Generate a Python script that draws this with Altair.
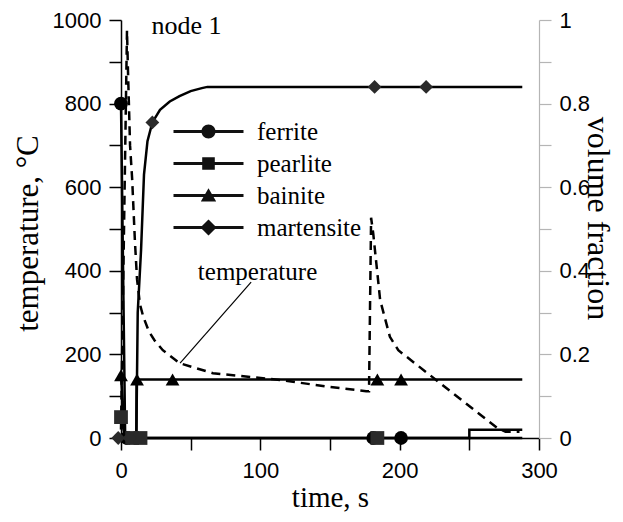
import altair as alt
import pandas as pd

# ---- temperature (left axis, degC) ----
temp_t = [0, 4.3, 5, 6.5, 8, 10, 11.5, 13.6, 16, 20, 24, 30, 42, 66, 114, 150, 176, 178, 179.5, 181, 184.5, 186, 193, 199, 270, 276, 286]
temp_T = [20, 975, 880, 700, 620, 470, 380, 320, 290, 255, 234, 210, 179, 155, 139, 122, 112, 112, 527, 490, 378, 330, 242, 210, 24, 15, 15]

# ---- phase volume fractions (right axis) ----
phases = ["ferrite", "pearlite", "bainite", "martensite"]
ferrite_t = [0, 3, 250, 250, 288]
ferrite_f = [0.8, 0, 0, 0.02, 0.02]
pearlite_t = [0, 3, 288]
pearlite_f = [0.05, 0, 0]
bainite_t = [0, 3, 11, 11.2, 288]
bainite_f = [0.15, 0, 0, 0.14, 0.14]
martensite_t = [0, 11, 12, 14.4, 16.5, 19, 22.5, 28, 35, 42, 50, 58, 62, 288]
martensite_f = [0, 0, 0.3, 0.45, 0.63, 0.71, 0.755, 0.785, 0.805, 0.818, 0.83, 0.837, 0.84, 0.84]

# marker positions
ferrite_mt = [0, 4, 181, 201]
ferrite_mf = [0.8, 0, 0, 0]
pearlite_mt = [0, 8, 14, 184]
pearlite_mf = [0.05, 0, 0, 0]
bainite_mt = [0, 11.5, 37, 184, 201]
bainite_mf = [0.15, 0.14, 0.14, 0.14, 0.14]
martensite_mt = [-2, 6, 22.5, 182, 219]
martensite_mf = [0, 0, 0.755, 0.84, 0.84]

# annotations
node_label = ["node 1"]
node_t = [47]
node_T = [985]
temp_label = ["temperature"]
temp_label_t = [98]
temp_label_T = [397]
leader_t = [93.4]
leader_T = [373]
leader_t2 = [42.4]
leader_T2 = [179]

line_rows = []
for name, ts, fs in [("ferrite", ferrite_t, ferrite_f), ("pearlite", pearlite_t, pearlite_f),
                     ("bainite", bainite_t, bainite_f), ("martensite", martensite_t, martensite_f)]:
    for i, (t, f) in enumerate(zip(ts, fs)):
        line_rows.append({"phase": name, "t": t, "f": f, "i": i})
lines_df = pd.DataFrame(line_rows)

mark_rows = []
for name, ts, fs in [("ferrite", ferrite_mt, ferrite_mf), ("pearlite", pearlite_mt, pearlite_mf),
                     ("bainite", bainite_mt, bainite_mf), ("martensite", martensite_mt, martensite_mf)]:
    for t, f in zip(ts, fs):
        mark_rows.append({"phase": name, "phase_leg": name, "t": t, "f": f})
marks_df = pd.DataFrame(mark_rows)

temp_df = pd.DataFrame({"t": temp_t, "T": temp_T, "i": list(range(len(temp_t)))})

LABEL_FONT = "Liberation Sans"
SERIF = "Liberation Serif"

xscale = alt.Scale(domain=[0, 300], nice=False, zero=False)
x_axis = alt.Axis(values=list(range(0, 301, 50)),
                  labelExpr="datum.value % 100 == 0 ? '' + datum.value : ''",
                  title="time, s", titleX=209, titleY=59, titleBaseline="middle",
                  titleAlign="center", titleFontSize=29)
tscale = alt.Scale(domain=[0, 1000], nice=False)
fscale = alt.Scale(domain=[0, 1], nice=False)

left_axis = alt.Axis(
    values=list(range(0, 1001, 100)),
    labelExpr="datum.value % 200 == 0 ? '' + datum.value : ''",
    title="temperature, \u00b0C", titleAngle=270, titleX=-93, titleY=213,
    titleBaseline="middle", titleAlign="center", orient="left", titleFontSize=31)

right_axis = alt.Axis(
    orient="right", values=[round(v * 0.1, 1) for v in range(11)],
    labelExpr="round(datum.value*10) % 2 == 0 ? '' + round(datum.value*10)/10 : ''",
    domainColor="#b5b5b5", tickColor="#b5b5b5",
    title="volume fraction", titleAngle=90, titleX=58, titleY=198,
    titleBaseline="middle", titleAlign="center", titleFontSize=32)

temp_line = alt.Chart(temp_df).mark_line(color="black", strokeWidth=2.5, strokeDash=[9, 6]).encode(
    x=alt.X("t:Q", scale=xscale, axis=x_axis),
    y=alt.Y("T:Q", scale=tscale, axis=left_axis),
    order="i:Q",
)

node_text = alt.Chart(pd.DataFrame({"t": node_t, "T": node_T, "s": node_label})).mark_text(
    font=SERIF, fontSize=26, color="black").encode(
    x=alt.X("t:Q", scale=xscale, axis=x_axis), y=alt.Y("T:Q", scale=tscale, axis=left_axis), text="s:N")

tlabel = alt.Chart(pd.DataFrame({"t": temp_label_t, "T": temp_label_T, "s": temp_label})).mark_text(
    font=SERIF, fontSize=25, color="black").encode(
    x=alt.X("t:Q", scale=xscale, axis=x_axis), y=alt.Y("T:Q", scale=tscale, axis=left_axis), text="s:N")

leader = alt.Chart(pd.DataFrame({"t": leader_t, "T": leader_T, "t2": leader_t2, "T2": leader_T2})).mark_rule(
    color="black", strokeWidth=1.2).encode(
    x=alt.X("t:Q", scale=xscale, axis=x_axis), y=alt.Y("T:Q", scale=tscale, axis=left_axis),
    x2="t2:Q", y2="T2:Q")

temp_layer = alt.layer(temp_line, node_text, tlabel, leader)

phase_lines = alt.Chart(lines_df).mark_line(color="black", strokeWidth=2.5).encode(
    x=alt.X("t:Q", scale=xscale, axis=x_axis),
    y=alt.Y("f:Q", scale=fscale, axis=right_axis),
    detail="phase:N",
    order="i:Q",
)

shape_scale = alt.Scale(domain=phases, range=["circle", "square", "triangle-up", "diamond"])
markers = alt.Chart(marks_df).mark_point(filled=True, opacity=1, size=190).encode(
    x=alt.X("t:Q", scale=xscale, axis=x_axis),
    y=alt.Y("f:Q", scale=fscale, axis=right_axis),
    shape=alt.Shape("phase:N", scale=shape_scale, legend=None),
    color=alt.Color("phase:N", scale=alt.Scale(domain=phases, range=["#000000", "#2a2a2a", "#000000", "#2a2a2a"]), legend=None),
)

leg_paths = [
    "M-5,-0.2H-0.9V0.2H-5Z M0.9,-0.2H5V0.2H0.9Z M1,0A1,1 0 1,1 -1,0A1,1 0 1,1 1,0Z",
    "M-5,-0.2H-0.9V0.2H-5Z M0.9,-0.2H5V0.2H0.9Z M-0.9,-0.9H0.9V0.9H-0.9Z",
    "M-5,-0.2H-0.5V0.2H-5Z M0.5,-0.2H5V0.2H0.5Z M0,-1.05L1.1,0.85H-1.1Z",
    "M-5,-0.2H-0.9V0.2H-5Z M0.9,-0.2H5V0.2H0.9Z M0,-1.15L1.15,0L0,1.15L-1.15,0Z",
]
# legend-only layer: no rows pass the filter, the explicit scale domain drives the legend
legend_layer = alt.Chart(marks_df).transform_filter("datum.t > 100000").mark_point(
    filled=True, size=196, color="#111111", opacity=1).encode(
    x=alt.X("t:Q", scale=xscale, axis=x_axis),
    y=alt.Y("f:Q", scale=fscale, axis=right_axis),
    shape=alt.Shape("phase_leg:N", scale=alt.Scale(domain=phases, range=leg_paths),
                    legend=alt.Legend(title=None, orient="none", legendX=75, legendY=99,
                                      labelFont=SERIF, labelFontSize=25, labelColor="black",
                                      labelOffset=36, rowPadding=6, padding=0,
                                      symbolSize=196, symbolStrokeWidth=0, symbolOpacity=1,
                                      symbolFillColor="#111111")),
)

phase_layer = alt.layer(phase_lines, markers, legend_layer).resolve_scale(shape="independent", color="independent")

chart = alt.layer(temp_layer, phase_layer).resolve_scale(y="independent").properties(
    width=418, height=418,
    autosize=alt.AutoSizeParams(type="none"),
    padding={"left": 113, "top": 12, "right": 76, "bottom": 76},
).configure_view(stroke=None).configure_axis(
    grid=False, domainColor="black", tickColor="black", domainWidth=1.5, tickWidth=1.5,
    tickSize=12, labelFont=LABEL_FONT, labelFontSize=22, labelColor="black", labelPadding=8,
    titleFont=SERIF, titleFontSize=31, titleFontWeight="normal", titleColor="black",
    labelFlush=False, labelOverlap=False,
).configure_axisBottom(labelPadding=10).configure_axisRight(tickColor="#b5b5b5", domainWidth=1.2, tickWidth=1.2)

chart.save("out.html", embed_options={"renderer": "svg", "actions": False})
